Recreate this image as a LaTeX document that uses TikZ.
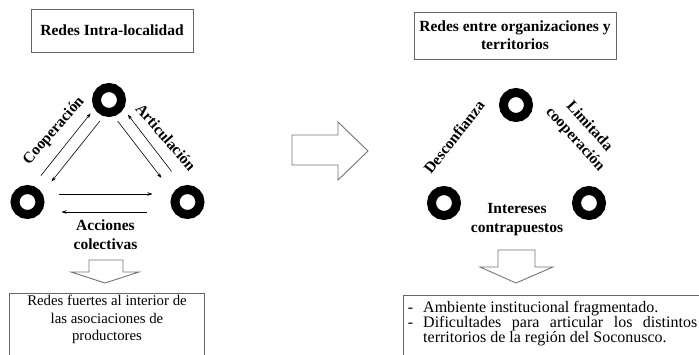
\documentclass[tikz,border=0pt]{standalone}
\usepackage{fontspec}
\setmainfont{Liberation Serif}
\usetikzlibrary{arrows.meta,calc}
\tikzset{
  ring/.style={circle, draw, line width=9pt, minimum size=25pt, inner sep=0pt},
  flecha/.style={-{Stealth[length=5pt,width=3.5pt]}, line width=0.6pt},
  titulo/.style={draw=black!60, line width=0.9pt, align=center, inner sep=0pt,
    font=\fontsize{15.5}{18}\selectfont\bfseries},
  etiqueta/.style={align=center, inner sep=0pt, font=\fontsize{15.5}{19}\selectfont\bfseries},
  bloque/.style={draw=black!55, line width=0.9pt},
  caja/.style={draw=black!60, line width=0.9pt}
}
\begin{document}
\begin{tikzpicture}[x=1pt, y=-1pt]
		\useasboundingbox (0,0) rectangle (699,355);
		\clip (0,0) rectangle (699,355);
		% redes intra-localidad
		\node[titulo, minimum width=162pt, minimum height=43pt] (intra) at (112,30.5) {Redes Intra-localidad};
		\node[ring] (iTop) at (109,100) {};
		\node[ring] (iLeft) at (27.5,202) {};
		\node[ring] (iRight) at (187.5,202) {};
		\draw[flecha] ($(iLeft)!29pt!(iTop)!6pt!90:(iTop)$) -- ($(iTop)!22pt!(iLeft)!6pt!-90:(iLeft)$);
		\draw[flecha] ($(iTop)!22pt!(iLeft)!6pt!90:(iLeft)$) -- ($(iLeft)!31pt!(iTop)!6pt!-90:(iTop)$);
		\draw[flecha] ($(iTop)!22pt!(iRight)!6pt!-90:(iRight)$) -- ($(iRight)!35pt!(iTop)!6pt!90:(iTop)$);
		\draw[flecha] ($(iRight)!34pt!(iTop)!6pt!-90:(iTop)$) -- ($(iTop)!23pt!(iRight)!6pt!90:(iRight)$);
		\draw[flecha] ($(iLeft)!31pt!(iRight)!8pt!90:(iRight)$) -- ($(iRight)!35pt!(iLeft)!8pt!-90:(iLeft)$);
		\draw[flecha] ($(iRight)!41pt!(iLeft)!10pt!90:(iLeft)$) -- ($(iLeft)!34pt!(iRight)!10pt!-90:(iRight)$);
		\node[etiqueta, rotate=49] (coop) at (54,131) {Cooperación};
		\node[etiqueta, rotate=-49] (artic) at (166,137) {Articulación};
		\node[etiqueta] (acciones) at (105.5,234.5) {Acciones\\colectivas};
		\draw[bloque] (89,260) -- (123,260) -- (123,272) -- (139,272) -- (105,283) -- (71,272) -- (89,272) -- cycle;
		\draw[caja] (9,380) |- (204,293) -- (204,380);
		\node[anchor=north, align=center, inner sep=0pt, font=\fontsize{14.8}{17.5}\selectfont] (fuertes) at (107,295)
			{Redes fuertes al interior de\\las asociaciones de\\productores};
		% flecha central
		\draw[bloque] (292,135) -- (338,135) -- (338,122) -- (368,151) -- (338,180) -- (338,165) -- (292,165) -- cycle;
		% redes entre organizaciones y territorios
		\node[titulo, minimum width=202pt, minimum height=47pt] (terr) at (515,35.5) {Redes entre organizaciones y\\territorios};
		\node[ring] (tTop) at (516,105) {};
		\node[ring] (tLeft) at (444,203) {};
		\node[ring] (tRight) at (589,203) {};
		\node[etiqueta, rotate=52] (desconf) at (454,137) {Desconfianza};
		\node[etiqueta, rotate=-48] (limit) at (582,133) {Limitada\\cooperación};
		\node[etiqueta] (intereses) at (517,220) {Intereses\\contrapuestos};
		\draw[bloque] (498,250) -- (535,250) -- (535,267) -- (553,267) -- (516,283) -- (480,267) -- (498,267) -- cycle;
		\draw[caja] (403,380) |- (720,295);
		\node[anchor=north west, text width=274pt, align=justify, inner sep=0pt, font=\fontsize{16}{15}\selectfont] (ambiente) at (423,301)
			{\parindent=0pt\noindent\llap{-\hskip 10pt}Ambiente institucional fragmentado.\par
			\noindent\llap{-\hskip 10pt}Dificultades para articular los distintos\linebreak territorios de la región del Soconusco.};
		\end{tikzpicture}
\end{document}
